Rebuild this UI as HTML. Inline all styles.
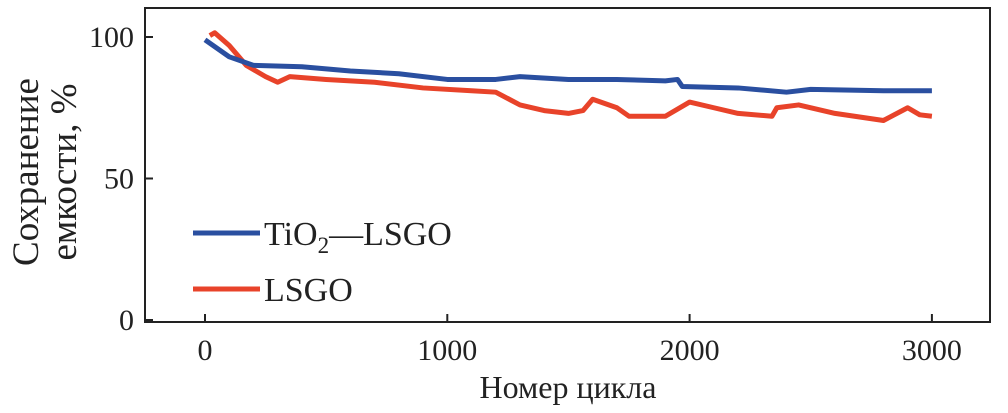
<!DOCTYPE html>
<html><head><meta charset="utf-8"><style>
body{margin:0;background:#fff}
svg{display:block;font-family:"Liberation Serif",serif}
</style></head><body>
<svg width="1008" height="413">
<rect x="145" y="8" width="845" height="314" fill="none" stroke="#222" stroke-width="2"/>
<g id="ticks"></g>
<g id="series"></g>
<text transform="translate(38,172) rotate(-90)" text-anchor="middle" font-size="37" fill="#222">Сохранение</text>
<text transform="translate(76,172) rotate(-90)" text-anchor="middle" font-size="37" fill="#222">емкости, %</text>
<text x="568" y="398" text-anchor="middle" font-size="32" fill="#222">Номер цикла</text>
<line x1="193" y1="233" x2="260" y2="233" stroke="#2a4fa0" stroke-width="5"/>
<text x="264" y="245" font-size="34" fill="#222">TiO<tspan font-size="23" dy="8">2</tspan><tspan dy="-8">—LSGO</tspan></text>
<line x1="193" y1="289" x2="260" y2="289" stroke="#e8432a" stroke-width="5"/>
<text x="264" y="301" font-size="34" fill="#222">LSGO</text>
</svg>
<script>
const xTicks=[0,1000,2000,3000];
const yTicks=[0,50,100];
const blueX=[0,100,200,400,600,800,1000,1200,1300,1500,1700,1900,1950,1970,2200,2400,2500,2800,3000];
const blueY=[99,93,90,89.5,88,87,85,85,86,85,85,84.5,85,82.5,82,80.5,81.5,81,81];
const redX=[20,40,100,170,250,300,350,500,700,900,1100,1200,1300,1400,1500,1560,1600,1700,1750,1900,2000,2100,2200,2340,2360,2450,2600,2800,2900,2950,3000];
const redY=[100.5,101.5,97,90,86,84,86,85,84,82,81,80.5,76,74,73,74,78,75,72,72,77,75,73,72,75,76,73,70.5,75,72.5,72];
const NS="http://www.w3.org/2000/svg";
const sx=v=>205+v*0.2423, sy=v=>320-v*2.83;
const tg=document.getElementById('ticks');
function mk(t,a,p){const e=document.createElementNS(NS,t);for(const k in a)e.setAttribute(k,a[k]);p.appendChild(e);return e;}
xTicks.forEach(v=>{
 const l=mk('line',{x1:sx(v),x2:sx(v),y1:322,y2:314,stroke:'#222','stroke-width':2},tg);
 
 
 const t=mk('text',{x:sx(v),y:360,'text-anchor':'middle','font-size':30,fill:'#222'},tg);t.textContent=v;
 
 
});
yTicks.forEach(v=>{
 const l=mk('line',{x1:145,x2:153,y1:sy(v),y2:sy(v),stroke:'#222','stroke-width':2},tg);
 
 
 const t=mk('text',{x:134,y:sy(v)+10,'text-anchor':'end','font-size':30,fill:'#222'},tg);t.textContent=v;
 
 
});
const sg=document.getElementById('series');
function line(xs,ys,c){return mk('polyline',{points:xs.map((x,i)=>sx(x)+','+sy(ys[i])).join(' '),fill:'none',stroke:c,'stroke-width':5,'stroke-linejoin':'round'},sg);}
const r=line(redX,redY,'#e8432a');


const b=line(blueX,blueY,'#2a4fa0');


</script>
</body></html>
